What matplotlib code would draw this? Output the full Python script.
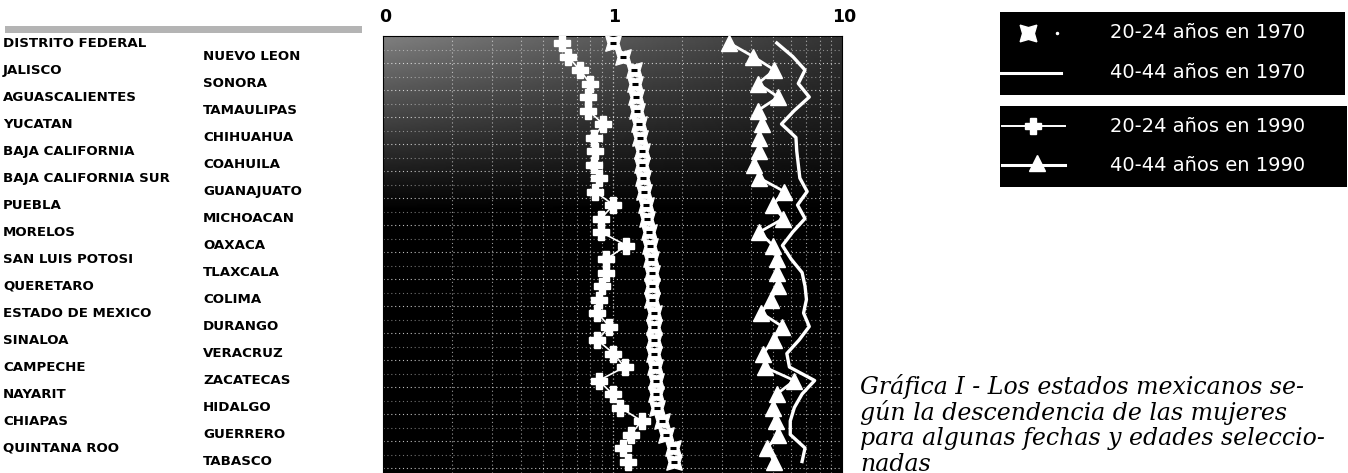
import numpy as np
import matplotlib.pyplot as plt
from matplotlib.patches import Rectangle
from matplotlib.transforms import blended_transform_factory

# estados en el orden de las filas (columna izquierda y derecha intercaladas)
estados = ["DISTRITO FEDERAL", "NUEVO LEON", "JALISCO", "SONORA",
           "AGUASCALIENTES", "TAMAULIPAS", "YUCATAN", "CHIHUAHUA",
           "BAJA CALIFORNIA", "COAHUILA", "BAJA CALIFORNIA SUR", "GUANAJUATO",
           "PUEBLA", "MICHOACAN", "MORELOS", "OAXACA",
           "SAN LUIS POTOSI", "TLAXCALA", "QUERETARO", "COLIMA",
           "ESTADO DE MEXICO", "DURANGO", "SINALOA", "VERACRUZ",
           "CAMPECHE", "ZACATECAS", "NAYARIT", "HIDALGO",
           "CHIAPAS", "GUERRERO", "QUINTANA ROO", "TABASCO"]

# descendencia media (escala log)
d2024_1970 = [1.00, 1.11, 1.24, 1.25, 1.26, 1.28, 1.30, 1.32, 1.34, 1.35, 1.36,
              1.37, 1.40, 1.42, 1.44, 1.45, 1.47, 1.48, 1.49, 1.49, 1.51, 1.51,
              1.52, 1.52, 1.53, 1.54, 1.54, 1.57, 1.64, 1.71, 1.83, 1.86]
d4044_1970 = [5.2, 6.1, 6.9, 6.45, 7.2, 6.2, 5.45, 6.3, 6.35, 6.45, 6.55, 7.05,
              6.4, 6.9, 6.1, 5.5, 6.0, 6.7, 6.9, 7.0, 6.8, 7.2, 6.5, 5.75,
              5.9, 7.6, 6.7, 6.2, 5.95, 5.95, 6.9, 6.7]
d2024_1990 = [0.60, 0.64, 0.72, 0.80, 0.78, 0.785, 0.91, 0.83, 0.84, 0.83, 0.87,
              0.84, 1.01, 0.89, 0.89, 1.15, 0.94, 0.94, 0.90, 0.87, 0.86, 0.97,
              0.86, 1.01, 1.13, 0.87, 1.00, 1.08, 1.34, 1.20, 1.11, 1.17]
d4044_1990 = [3.23, 4.1, 5.08, 4.3, 5.28, 4.3, 4.5, 4.35, 4.35, 4.15, 4.37, 5.6,
              5.0, 5.55, 4.37, 5.0, 5.2, 5.2, 5.28, 4.9, 4.45, 5.5, 5.05, 4.53,
              4.6, 6.2, 5.2, 5.0, 5.15, 5.28, 4.72, 5.05]

ticks_top = [0.1, 1, 10]
ticks_top_lbl = ["0", "1", "10"]
leyenda = ["20-24 años en 1970", "40-44 años en 1970",
           "20-24 años en 1990", "40-44 años en 1990"]
pie = ["Gráfica I - Los estados mexicanos se-",
       "gún la descendencia de las mujeres",
       "para algunas fechas y edades seleccio-",
       "nadas"]

W, H = 1348, 473
fig = plt.figure(figsize=(W / 100, H / 100), dpi=100)

ax = fig.add_axes([383 / W, 0, 459 / W, 1 - 36 / H])
ax.set_facecolor("black")
ax.set_xscale("log")
ax.set_xlim(0.1, 10)
ax.set_ylim(31.85, -0.52)
ax.set_xticks([])
ax.set_yticks([])
ax.minorticks_off()
for s in ax.spines.values():
    s.set_color("black")

# textura gris arriba a la izquierda
yy, xx = np.mgrid[0:1:200j, 0:1:200j]
grad = 0.5 * np.clip(1 - yy / 0.4, 0, 1) * (1 - 0.6 * xx)
ax.imshow(grad, extent=[0, 1, 0, 1], transform=ax.transAxes, cmap="gray",
          vmin=0, vmax=1, aspect="auto", zorder=0, interpolation="bilinear")

# rejilla punteada
for dec in [0.1, 1]:
    for k in range(2, 10):
        ax.axvline(dec * k, color="white", lw=0.8, ls=(0, (1, 2.5)), alpha=0.6, zorder=1)
ax.axvline(1, color="white", lw=0.9, ls=(0, (1, 2)), alpha=0.7, zorder=1)
for i in range(0, 33):
    a = 0.75 if i % 2 == 0 else 0.45
    ax.axhline(i - 0.5, color="white", lw=0.8, ls=(0, (1, 2.5)), alpha=a, zorder=1)

rows = np.arange(len(estados))
ax.plot(d2024_1970, rows, ls="none", marker=(4, 1, 45), ms=16,
        mfc="white", mec="white", mew=0.8, zorder=3)
ax.plot(d2024_1970, rows, ls="none", marker="_", ms=5,
        mec="black", mew=2.2, zorder=3)
ax.plot(d4044_1970, rows, color="white", lw=2.4, zorder=3)
ax.plot(d2024_1990, rows, color="white", lw=1.2, marker="P", ms=11,
        mfc="white", mec="white", zorder=4)
ax.plot(d4044_1990, rows, color="white", lw=2.0, marker="^", ms=12,
        mfc="white", mec="white", zorder=4)

# capa en pixeles para textos y leyenda
ov = fig.add_axes([0, 0, 1, 1], zorder=5)
ov.set_xlim(0, W)
ov.set_ylim(H, 0)
ov.axis("off")
ov.patch.set_alpha(0)

for v, lbl in zip(ticks_top, ticks_top_lbl):
    xp = 383 + 459 * (np.log10(v) + 1) / 2
    ov.text(xp + 2, 17, lbl, ha="center", va="center", fontsize=12.5,
            fontweight="bold", color="black")

ov.add_patch(Rectangle((5, 26), 357, 7, color="#b4b4b4", lw=0))

tr = blended_transform_factory(ov.transData, ax.transData)
for i, nombre in enumerate(estados):
    xp = 3 if i % 2 == 0 else 203
    ov.text(xp, i, nombre, transform=tr, ha="left", va="center",
            fontsize=9.6, fontweight="bold", color="black")

# leyenda
ov.add_patch(Rectangle((1000, 12), 345, 83, color="black", lw=0))
ov.add_patch(Rectangle((1000, 106), 347, 81, color="black", lw=0))
ov.plot([1028], [33], ls="none", marker=(4, 1, 45), ms=17, mfc="white", mec="white")
ov.plot([1057], [33], ls="none", marker="o", ms=1.5, mfc="white", mec="white")
ov.plot([1000, 1061], [73, 73], color="white", lw=2.2)
ov.plot([1002, 1065], [126, 126], color="white", lw=1.4)
ov.plot([1033], [126], ls="none", marker="P", ms=12, mfc="white", mec="white")
ov.plot([1002, 1065], [165, 165], color="white", lw=2.2)
ov.plot([1037], [163], ls="none", marker="^", ms=12, mfc="white", mec="white")
for yp, t in zip([33, 73, 126, 165], leyenda):
    ov.text(1110, yp, t, ha="left", va="center", fontsize=14, color="white")

for k, linea in enumerate(pie):
    ov.text(860, 386 + 26 * k, linea, ha="left", va="center", fontsize=17,
            family="DejaVu Serif", style="italic", color="black")

fig.savefig("out.png", dpi=100)
